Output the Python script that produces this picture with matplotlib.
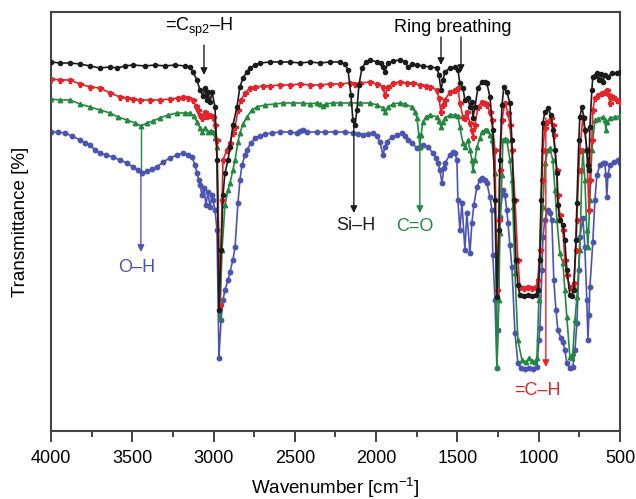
import matplotlib
matplotlib.use("Agg")
import matplotlib.pyplot as plt
from matplotlib.ticker import MultipleLocator

plt.rcParams["font.family"] = ["Liberation Sans", "DejaVu Sans"]
plt.rcParams["mathtext.fontset"] = "custom"
plt.rcParams["mathtext.rm"] = "Liberation Sans"
plt.rcParams["mathtext.it"] = "Liberation Sans:italic"

# FTIR spectra, transmittance in arbitrary units (curves offset vertically)
wn_black = [4000, 3945, 3883, 3822, 3760, 3699, 3637, 3594, 3545, 3496, 3422, 3360, 3299, 3237,
            3176, 3145, 3127, 3102, 3084, 3065, 3053, 3041, 3034, 3022, 3010, 2991, 2979, 2967,
            2954, 2942, 2930, 2911, 2899, 2881, 2856, 2838, 2819, 2795, 2776, 2745, 2715, 2653,
            2592, 2530, 2469, 2407, 2346, 2284, 2223, 2192, 2173, 2155, 2143, 2130, 2118, 2106,
            2087, 2063, 2038, 1995, 1970, 1958, 1946, 1927, 1897, 1854, 1823, 1804, 1780, 1749,
            1712, 1669, 1626, 1614, 1601, 1589, 1577, 1546, 1515, 1497, 1485, 1466, 1454, 1435,
            1423, 1411, 1405, 1392, 1374, 1349, 1331, 1319, 1300, 1282, 1269, 1257, 1245, 1239,
            1226, 1214, 1196, 1177, 1165, 1153, 1140, 1128, 1116, 1091, 1066, 1042, 1017, 1005,
            993, 986, 974, 962, 943, 925, 913, 900, 888, 882, 870, 851, 839, 827, 808, 796, 784,
            771, 765, 753, 747, 734, 722, 716, 704, 697, 691, 685, 673, 667, 654, 642, 630, 617,
            605, 593, 574, 550, 519, 501]
t_black = [373, 372, 372, 371, 369, 367, 368, 367, 369, 370, 369, 370, 369, 370,
           369, 368, 363, 355, 345, 339, 347, 335, 343, 333, 343, 328, 275, 125,
           185, 240, 262, 275, 288, 310, 328, 348, 357, 363, 367, 370, 372, 373,
           373, 373, 372, 373, 372, 373, 373, 371, 365, 340, 315, 310, 325, 350,
           367, 373, 375, 373, 372, 368, 363, 372, 374, 375, 373, 368, 371, 370,
           369, 368, 367, 360, 345, 355, 363, 367, 368, 365, 352, 347, 335, 337,
           328, 333, 317, 328, 347, 353, 353, 352, 338, 305, 235, 138, 205, 275,
           330, 348, 343, 332, 295, 235, 175, 150, 140, 139, 140, 139, 140, 145,
           175, 235, 312, 323, 327, 320, 305, 285, 262, 230, 215, 210, 195, 165, 140, 139, 145,
           195, 232, 295, 318, 328, 317, 305, 285, 270, 265, 308, 345, 358, 359, 362, 355, 361,
           353, 360, 358, 362, 362, 363]

wn_red = [4000, 3945, 3883, 3822, 3760, 3699, 3637, 3576, 3533, 3496, 3453, 3391, 3330, 3268,
          3219, 3188, 3157, 3127, 3108, 3096, 3084, 3071, 3053, 3041, 3022, 3004, 2991, 2979,
          2961, 2948, 2942, 2918, 2899, 2881, 2868, 2850, 2831, 2807, 2776, 2745, 2696, 2653,
          2592, 2530, 2469, 2407, 2346, 2284, 2223, 2161, 2130, 2100, 2038, 1995, 1958, 1946,
          1927, 1897, 1854, 1811, 1774, 1731, 1694, 1669, 1626, 1614, 1601, 1589, 1577, 1546,
          1515, 1497, 1485, 1466, 1454, 1442, 1423, 1411, 1405, 1392, 1374, 1349, 1331, 1319,
          1300, 1288, 1269, 1257, 1245, 1239, 1226, 1208, 1189, 1177, 1165, 1146, 1128, 1116,
          1091, 1066, 1042, 1017, 1005, 993, 980, 974, 962, 950, 925, 913, 907, 888, 882, 870,
          851, 839, 827, 808, 796, 784, 771, 765, 753, 747, 728, 716, 704, 691, 685, 673, 667,
          654, 636, 611, 593, 581, 568, 562, 556, 544, 519, 501]
t_red = [356, 355, 355, 351, 348, 347, 342, 338, 337, 336, 335, 335, 335, 336,
         337, 338, 337, 335, 329, 325, 320, 317, 323, 319, 320, 318, 310, 295,
         130, 235, 275, 285, 292, 302, 308, 325, 335, 342, 347, 348, 349, 349,
         350, 350, 351, 350, 350, 351, 351, 352, 351, 352, 353, 351, 348, 340,
         348, 352, 353, 352, 352, 350, 349, 348, 345, 337, 323, 330, 335, 343,
         345, 347, 332, 318, 317, 323, 312, 305, 298, 310, 328, 333, 332, 330,
         323, 315, 285, 145, 215, 265, 315, 332, 322, 310, 285, 235, 175, 148,
         147, 148, 147, 148, 155, 185, 255, 285, 307, 313, 317, 310, 300, 265, 240, 220,
         205, 175, 160, 148, 147, 152, 185, 215, 265, 285, 318, 305, 285, 225, 255, 295, 325,
         337, 340, 342, 343, 345, 340, 332, 339, 338, 335, 333]

wn_green = [4000, 3945, 3883, 3822, 3760, 3699, 3637, 3588, 3533, 3483, 3447, 3410, 3373, 3330,
            3280, 3225, 3176, 3145, 3121, 3102, 3084, 3071, 3053, 3034, 3016, 3004, 2991, 2979,
            2961, 2948, 2930, 2911, 2899, 2881, 2868, 2850, 2838, 2819, 2795, 2764, 2733, 2684,
            2622, 2573, 2512, 2450, 2407, 2364, 2346, 2327, 2309, 2266, 2223, 2161, 2100, 2038,
            1995, 1958, 1946, 1927, 1897, 1854, 1823, 1780, 1761, 1749, 1737, 1731, 1724, 1712,
            1694, 1669, 1626, 1614, 1601, 1589, 1577, 1546, 1515, 1497, 1485, 1466, 1454, 1435,
            1423, 1411, 1405, 1392, 1380, 1362, 1349, 1331, 1319, 1300, 1288, 1269, 1257, 1245,
            1239, 1226, 1220, 1208, 1196, 1177, 1165, 1159, 1146, 1128, 1103, 1079, 1060, 1042,
            1023, 1011, 999, 993, 974, 962, 943, 931, 913, 900, 888, 870, 851, 839, 827, 808,
            796, 790, 777, 765, 747, 734, 728, 716, 704, 697, 685, 673, 654, 636, 605, 593, 587,
            581, 562, 531, 501]
t_green = [336, 335, 335, 331, 328, 325, 322, 318, 315, 312, 309, 312, 314, 317,
           320, 322, 322, 322, 319, 313, 307, 303, 307, 303, 304, 303, 297, 288,
           117, 185, 230, 245, 252, 265, 275, 293, 302, 311, 318, 325, 328, 330,
           331, 332, 332, 332, 331, 332, 331, 329, 331, 332, 332, 332, 332, 332,
           330, 327, 323, 328, 331, 332, 331, 328, 323, 317, 300, 288, 300, 313,
           318, 320, 318, 314, 308, 313, 317, 320, 320, 319, 308, 292, 288, 295,
           285, 275, 265, 275, 288, 297, 303, 305, 305, 300, 295, 262, 68, 135,
           202, 260, 295, 296, 295, 275, 255, 228, 162, 95, 75, 73, 77, 74,
           73, 77, 135, 178, 228, 272, 285, 287, 275, 245, 215, 182, 172, 145, 118, 78,
           77, 82, 115, 138, 185, 265, 285, 255, 205, 188, 235, 285, 315, 316, 318, 315, 305,
           313, 317, 318, 319]

wn_blue = [4000, 3957, 3914, 3871, 3822, 3791, 3760, 3729, 3699, 3662, 3619, 3576, 3533, 3496,
           3465, 3440, 3410, 3379, 3348, 3311, 3268, 3225, 3188, 3157, 3133, 3114, 3102, 3090,
           3084, 3071, 3059, 3047, 3034, 3022, 3010, 3004, 2991, 2979, 2967, 2954, 2942, 2930,
           2911, 2899, 2881, 2868, 2850, 2838, 2825, 2807, 2795, 2770, 2745, 2715, 2684, 2641,
           2592, 2530, 2487, 2469, 2450, 2426, 2364, 2315, 2253, 2192, 2143, 2112, 2081, 2050,
           2020, 1995, 1977, 1958, 1946, 1934, 1903, 1872, 1841, 1823, 1804, 1780, 1749, 1731,
           1712, 1681, 1651, 1632, 1620, 1608, 1595, 1583, 1577, 1546, 1528, 1515, 1503, 1497,
           1485, 1472, 1454, 1442, 1423, 1411, 1399, 1380, 1362, 1349, 1331, 1319, 1300, 1288,
           1282, 1269, 1257, 1251, 1239, 1220, 1208, 1196, 1189, 1177, 1165, 1146, 1128, 1109,
           1085, 1060, 1036, 1011, 999, 993, 980, 974, 962, 943, 931, 919, 907, 894, 882, 863,
           851, 839, 827, 808, 790, 777, 765, 753, 747, 728, 716, 704, 697, 691, 685, 667, 654,
           642, 624, 605, 593, 587, 581, 574, 562, 538, 513, 501]
t_blue = [303, 303, 302, 299, 295, 292, 290, 285, 282, 280, 278, 275, 272, 268,
          265, 262, 264, 266, 268, 273, 277, 280, 282, 280, 278, 270, 262, 255,
          250, 240, 247, 230, 243, 228, 240, 235, 225, 205, 77, 115, 135, 145,
          155, 163, 175, 188, 232, 255, 270, 280, 285, 292, 297, 299, 301, 302,
          303, 303, 302, 304, 305, 303, 303, 303, 303, 303, 302, 301, 300, 301,
          302, 299, 293, 280, 288, 293, 298, 300, 302, 299, 295, 292, 287, 288,
          290, 288, 282, 277, 272, 265, 252, 267, 272, 280, 283, 282, 275, 235,
          205, 232, 185, 222, 182, 212, 230, 248, 255, 257, 255, 252, 238, 225,
          180, 135, 67, 105, 218, 245, 240, 225, 212, 190, 168, 102, 72, 67,
          66, 67, 66, 68, 95, 107, 165, 198, 215, 225, 222, 215, 155, 125, 105, 97,
          93, 85, 72, 67, 68, 85, 112, 165, 198, 217, 188, 135, 95, 120, 148, 193, 235,
          260, 270, 272, 272, 260, 238, 260, 270, 273, 275, 272]

BLACK = "#1c1c1c"
RED = "#e5232b"
GREEN = "#23893f"
BLUE = "#4c54b2"

fig = plt.figure(figsize=(6.36, 4.99), dpi=100)
ax = fig.add_axes([0.0802, 0.1363, 0.8946, 0.8397])

ax.plot(wn_blue, t_blue, color=BLUE, lw=1.2, marker="o", ms=3.2, zorder=2)
ax.plot(wn_green, t_green, color=GREEN, lw=1.2, marker="^", ms=3.2, zorder=3)
ax.plot(wn_red, t_red, color=RED, lw=1.2, marker="P", ms=3.6, zorder=4)
ax.plot(wn_black, t_black, color=BLACK, lw=1.2, marker="o", ms=3.0, zorder=5)

ax.set_xlim(4000, 500)
ax.set_ylim(4, 423)
ax.xaxis.set_major_locator(MultipleLocator(500))
ax.xaxis.set_minor_locator(MultipleLocator(250))
ax.tick_params(axis="x", which="major", direction="out", length=8, width=1.3,
               labelsize=13, pad=6, color="#333333")
ax.tick_params(axis="x", which="minor", direction="out", length=4, width=1.3, color="#333333")
ax.tick_params(axis="y", left=False, labelleft=False)
for s in ax.spines.values():
    s.set_linewidth(1.5)
    s.set_color("#444444")

ax.set_xlabel("Wavenumber [cm$^{-1}$]", fontsize=13.5, labelpad=6)
ax.set_ylabel("Transmittance [%]", fontsize=13.5, labelpad=16)

arrow = dict(arrowstyle="-|>", lw=1.0, mutation_scale=10, shrinkA=0, shrinkB=0)

# band assignments
ax.text(3090, 408, "=C$_{\\mathregular{sp2}}$\u2013H", fontsize=13, ha="center", va="center")
ax.annotate("", xy=(3059, 360), xytext=(3059, 390), arrowprops=dict(arrow, color=BLACK))

ax.text(1528, 407, "Ring breathing", fontsize=13, ha="center", va="center")
ax.annotate("", xy=(1601, 370), xytext=(1601, 398), arrowprops=dict(arrow, color=BLACK))
ax.annotate("", xy=(1478, 363), xytext=(1478, 398), arrowprops=dict(arrow, color=BLACK))

ax.annotate("", xy=(2137, 222), xytext=(2137, 312), arrowprops=dict(arrow, color=BLACK))
ax.text(2124, 209, "Si\u2013H", fontsize=13, ha="center", va="center", color=BLACK)

ax.annotate("", xy=(1731, 222), xytext=(1731, 288), arrowprops=dict(arrow, color=GREEN))
ax.text(1761, 208, "C=O", fontsize=13, ha="center", va="center", color=GREEN)

ax.plot([3447, 3447], [307, 260], color=GREEN, lw=1.0, zorder=1)
ax.annotate("", xy=(3447, 183), xytext=(3447, 260), arrowprops=dict(arrow, color=BLUE))
ax.text(3471, 167, "O\u2013H", fontsize=13, ha="center", va="center", color=BLUE)

ax.annotate("", xy=(956, 68), xytext=(956, 317), arrowprops=dict(arrow, color=RED), zorder=6)
ax.text(1011, 44, "=C\u2013H", fontsize=13, ha="center", va="center", color=RED)

fig.savefig("out.png", dpi=100)
